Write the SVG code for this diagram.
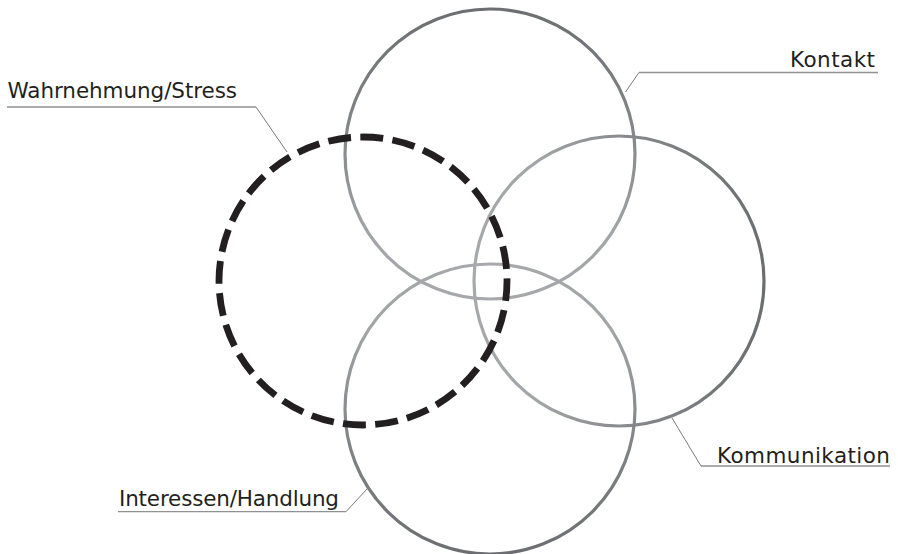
<svg xmlns="http://www.w3.org/2000/svg" width="898" height="554" viewBox="0 0 898 554">
  <defs>
    <radialGradient id="ringGrad" gradientUnits="userSpaceOnUse" cx="490" cy="281" r="290">
      <stop offset="0" stop-color="#a7a9ac"/>
      <stop offset="0.45" stop-color="#a2a4a7"/>
      <stop offset="1" stop-color="#66676a"/>
    </radialGradient>
  </defs>
  <style>
    .ring { fill: none; stroke: url(#ringGrad); stroke-width: 3.2; }
    .dashed { fill: none; stroke: #231f20; stroke-width: 6.8; stroke-dasharray: 23 9.314; stroke-dashoffset: 3; }
    .label { font-family: "DejaVu Sans", "Liberation Sans", sans-serif; font-size: 21.5px; fill: #231f20; }
    .under { fill: none; stroke: #8f9194; stroke-width: 1.3; }
    .lead { fill: none; stroke: #58595b; stroke-width: 0.8; }
  </style>
  <rect width="898" height="554" fill="#ffffff"/>

  <g id="kontakt">
    <circle class="ring" cx="490" cy="154" r="145"/>
    <text class="label" x="790" y="67.3" textLength="85">Kontakt</text>
  </g>
  <g id="kommunikation">
    <circle class="ring" cx="619" cy="281" r="145"/>
    <text class="label" x="717" y="462.5" textLength="173">Kommunikation</text>
  </g>
  <g id="interessen-handlung">
    <circle class="ring" cx="490" cy="409" r="145"/>
    <text class="label" x="119" y="506" textLength="220">Interessen/Handlung</text>
  </g>
  <g id="wahrnehmung-stress">
    <circle class="dashed" cx="363" cy="281" r="144"/>
    <text class="label" x="7.5" y="98.3" textLength="229.5">Wahrnehmung/Stress</text>
  </g>

  <g id="connectors">
    <line class="under" x1="639" y1="72.5" x2="878" y2="72.5"/>
    <line class="lead" x1="639" y1="72.5" x2="625.5" y2="92"/>
    <line class="under" x1="7" y1="107" x2="256" y2="107"/>
    <line class="lead" x1="256" y1="107" x2="287" y2="152"/>
    <line class="under" x1="118" y1="511.7" x2="346" y2="511.7"/>
    <line class="lead" x1="346" y1="511.7" x2="367" y2="489"/>
    <line class="under" x1="701" y1="466" x2="890" y2="466"/>
    <line class="lead" x1="701" y1="466" x2="672" y2="418"/>
  </g>
</svg>
